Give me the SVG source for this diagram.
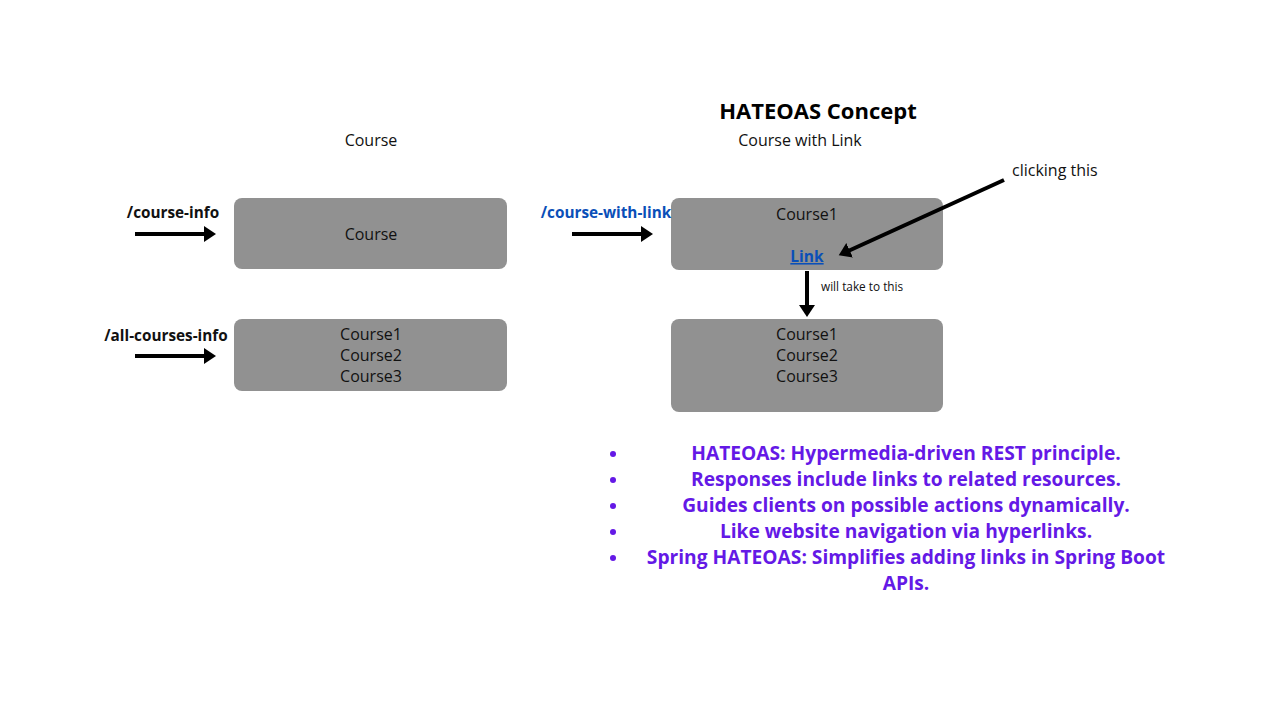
<svg xmlns="http://www.w3.org/2000/svg" width="1280" height="720" viewBox="0 0 1280 720">
<defs>
<marker id="ah" markerWidth="4" markerHeight="4" refX="1" refY="2" orient="auto" markerUnits="strokeWidth">
<path d="M0,0 L3,2 L0,4 Z" fill="#000"/>
</marker>
<style>
.box{fill:#919191}
.t{font-family:"Open Sans","Liberation Sans",sans-serif;fill:#111;text-anchor:middle}
.n{font-size:16px}
.b{font-weight:bold;font-size:15.3px}
.bl{font-weight:bold;font-size:19.2px;fill:#6419e6}
.c{stroke:#000;stroke-width:4;fill:none;marker-end:url(#ah)}
</style>
</defs>
<rect width="1280" height="720" fill="#fff"/>
<text class="t" x="818" y="119" style="font-weight:bold;font-size:22px;fill:#000">HATEOAS Concept</text>
<text class="t n" x="371" y="146">Course</text>
<text class="t n" x="800" y="146">Course with Link</text>

<g id="course-box"><rect class="box" x="234" y="198" width="273" height="71" rx="8"/>
<text class="t n" x="371" y="240">Course</text></g>
<g id="all-courses-box"><rect class="box" x="234" y="319" width="273" height="72" rx="8"/>
<text class="t n" x="371" y="340">Course1</text>
<text class="t n" x="371" y="361">Course2</text>
<text class="t n" x="371" y="382">Course3</text></g>
<g id="course-link-box"><rect class="box" x="671" y="198" width="272" height="72" rx="8"/>
<text class="t n" x="807" y="220">Course1</text>
<text class="t" x="807" y="262" style="font-weight:bold;font-size:15.5px;fill:#0a4fb8;text-decoration:underline">Link</text></g>
<g id="target-box"><rect class="box" x="671" y="319" width="272" height="93" rx="8"/>
<text class="t n" x="807" y="340">Course1</text>
<text class="t n" x="807" y="361">Course2</text>
<text class="t n" x="807" y="382">Course3</text></g>

<g id="labels">
<text class="t b" x="173" y="218">/course-info</text>
<text class="t b" x="166" y="341">/all-courses-info</text>
<text class="t b" x="606" y="218" style="fill:#0a4fb8">/course-with-link</text>
<text class="t n" x="1012" y="176" style="text-anchor:start">clicking this</text>
<text class="t" x="821" y="291" style="text-anchor:start;font-size:11.8px">will take to this</text>
</g>

<g id="connectors">
<line class="c" x1="135" y1="234" x2="208" y2="234"/>
<line class="c" x1="135" y1="356" x2="208" y2="356"/>
<line class="c" x1="572" y1="234" x2="645" y2="234"/>
<line class="c" x1="807" y1="271" x2="807" y2="309"/>
<line class="c" x1="1004" y1="180" x2="846" y2="252"/>
</g>

<g id="bullets">
<g fill="#6419e6"><circle cx="613" cy="454" r="3"/><circle cx="613" cy="480" r="3"/><circle cx="613" cy="506" r="3"/><circle cx="613" cy="532" r="3"/><circle cx="613" cy="558" r="3"/></g>
<text class="t bl" x="906" y="460">HATEOAS: Hypermedia-driven REST principle.</text>
<text class="t bl" x="906" y="486">Responses include links to related resources.</text>
<text class="t bl" x="906" y="512">Guides clients on possible actions dynamically.</text>
<text class="t bl" x="906" y="538">Like website navigation via hyperlinks.</text>
<text class="t bl" x="906" y="564">Spring HATEOAS: Simplifies adding links in Spring Boot</text>
<text class="t bl" x="906" y="590">APIs.</text>
</g>
</svg>
